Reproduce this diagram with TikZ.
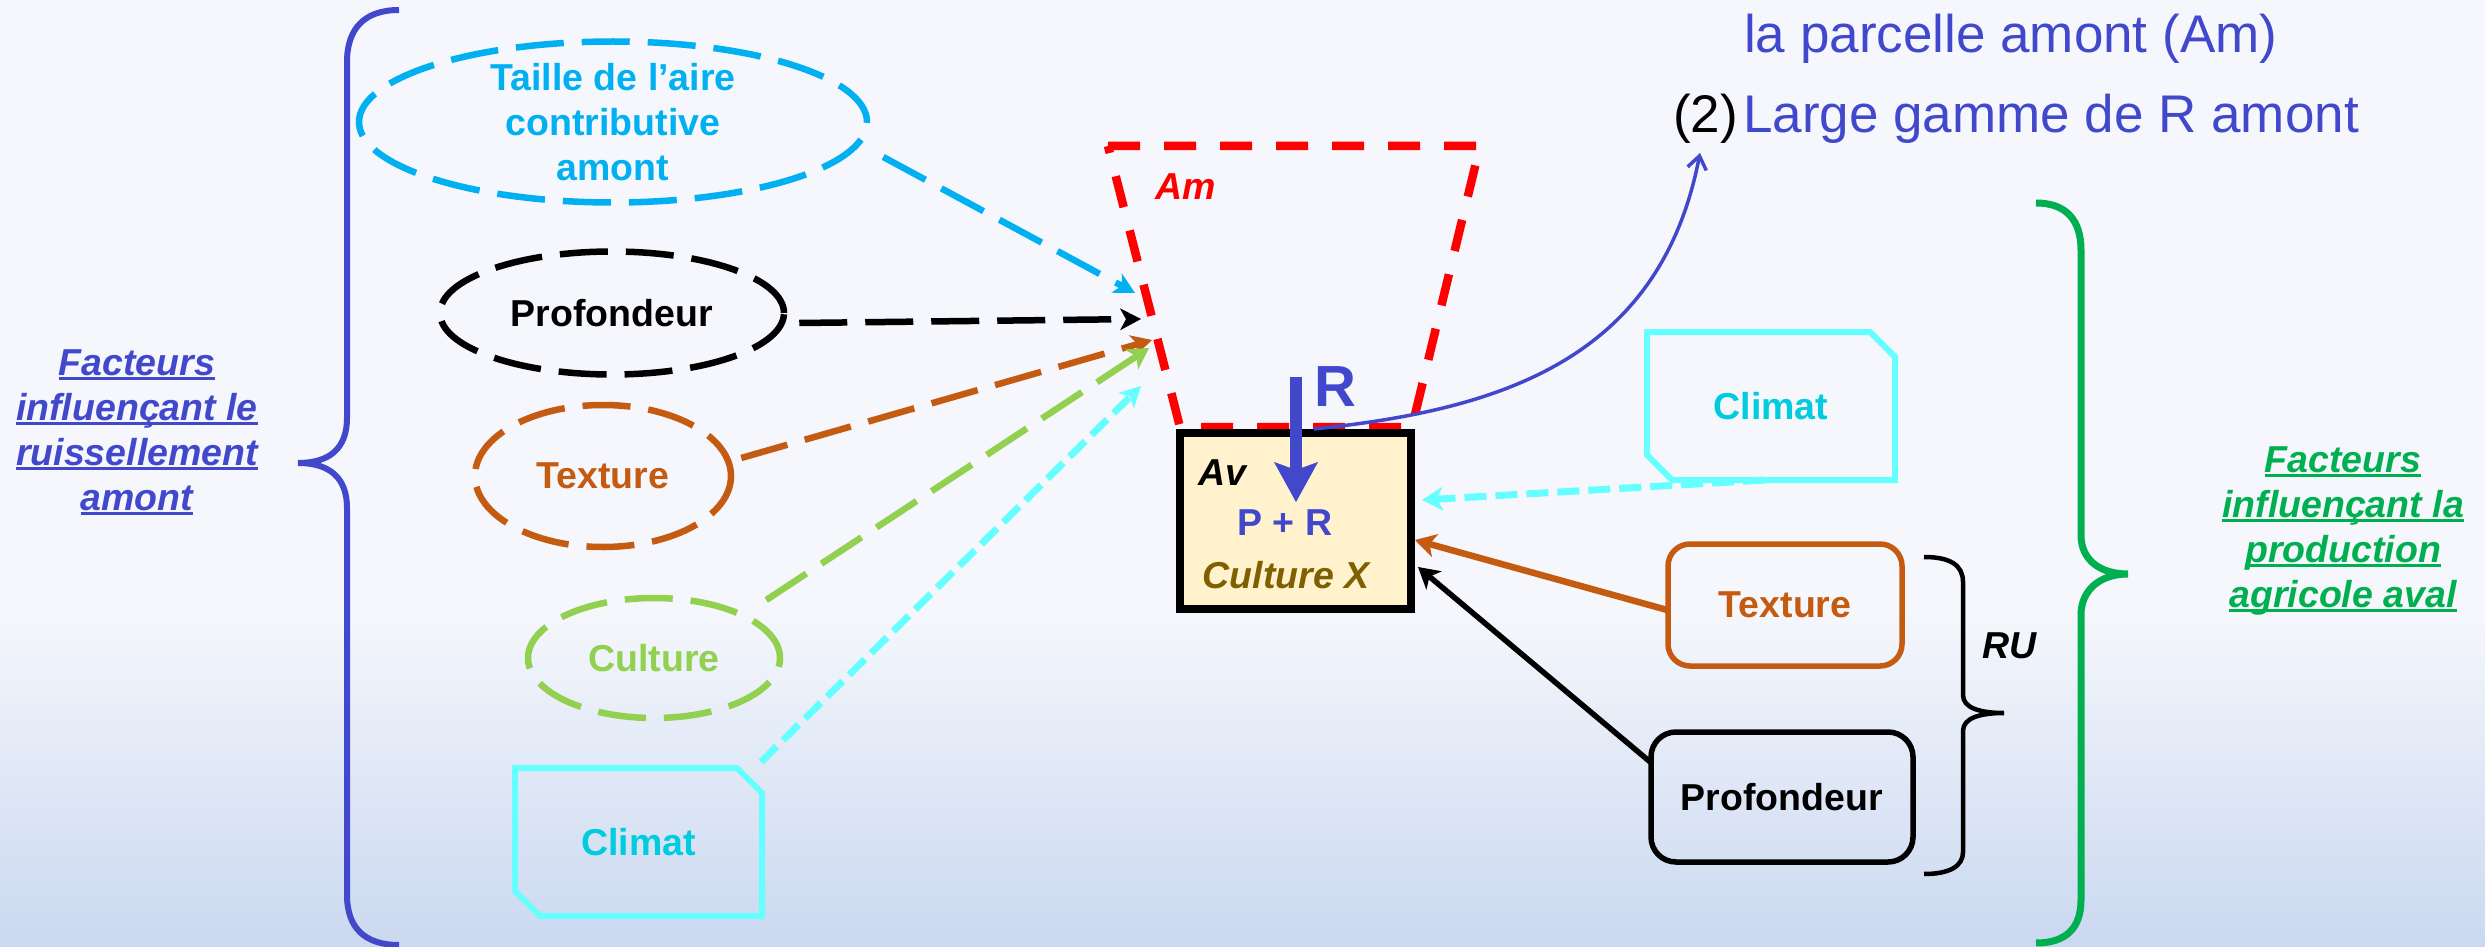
\documentclass[tikz,border=0pt]{standalone}
\usepackage{fontspec}
\setmainfont{Liberation Sans}
\usetikzlibrary{shapes.geometric,arrows.meta}
\definecolor{bl}{RGB}{65,72,204}
\definecolor{cy}{RGB}{0,176,240}
\definecolor{cyb}{RGB}{102,255,255}
\definecolor{cyt}{RGB}{0,204,221}
\definecolor{org}{RGB}{197,90,17}
\definecolor{lgr}{RGB}{146,208,80}
\definecolor{dgr}{RGB}{0,176,80}
\definecolor{brn}{RGB}{127,96,0}
\definecolor{avfill}{RGB}{255,242,204}
\definecolor{bgtop}{RGB}{245,247,252}
\definecolor{bgbot}{RGB}{202,216,240}
\newcommand\myul[1]{\setbox0\hbox{#1}\rlap{\rule[-4.5pt]{\wd0}{3pt}}\box0}
\newcommand\lblfont{\fontsize{37.5}{45}\selectfont\bfseries}
\newcommand\lblifont{\fontsize{37.5}{45}\selectfont\bfseries\itshape}
\newcommand\topfont{\fontsize{53}{60}\selectfont}
\tikzset{
  lbl/.style={font=\lblfont, inner sep=0pt, align=center},
  lbli/.style={font=\lblifont, inner sep=0pt, align=center},
  ell/.style={ellipse, line width=6.5pt, dash pattern=on 48pt off 18pt, inner sep=0pt},
  ldash/.style={dash pattern=on 48pt off 18pt},
  sdash/.style={dash pattern=on 22pt off 9pt},
  tipA/.style={-{Stealth[length=21pt,width=22pt,inset=6pt,line width=1pt]}},
  tipS/.style={-{Stealth[length=21pt,width=24pt,inset=6pt,line width=1pt]}},
  rbox/.style={rounded corners=22pt, line width=5.5pt, inner sep=0pt},
  cbox/.style={inner sep=0pt, outer sep=0pt, font=\lblfont, text=cyt},
}
\begin{document}
\begin{tikzpicture}[x=1pt,y=-1pt]
\useasboundingbox (0,0) rectangle (2485,947);
\fill[bgtop] (0,0) rectangle (2485,947);
\shade[top color=bgtop,bottom color=bgbot] (0,610) rectangle (2485,947);

% braces
\draw[bl, line width=6pt] (399,10) .. controls (365,10) and (347,28) .. (347,62) -- (347,418) .. controls (347,448) and (330,463) .. (298,463) .. controls (330,463) and (347,478) .. (347,508) -- (347,895) .. controls (347,928) and (365,945) .. (399,945);
\draw[dgr, line width=7pt] (2036,203) .. controls (2066,203) and (2081,220) .. (2081,250) -- (2081,535) .. controls (2081,560) and (2100,574) .. (2128,574) .. controls (2100,574) and (2081,590) .. (2081,615) -- (2081,900) .. controls (2081,928) and (2066,943) .. (2036,943);
\draw[black, line width=4.5pt] (1924,557) .. controls (1950,557) and (1963,565) .. (1963,582) -- (1963,695) .. controls (1963,708) and (1980,713) .. (2004,713) .. controls (1980,713) and (1963,718) .. (1963,731) -- (1963,852) .. controls (1963,866) and (1950,874) .. (1924,874);

% side texts
\node[lbli, text=bl] (leftT) at (137,432) {\myul{Facteurs}\\\myul{influençant le}\\\myul{ruissellement}\\\myul{amont}};
\node[lbli, text=dgr] (rightT) at (2343,531) {\myul{Facteurs}\\\myul{influençant la}\\\myul{production}\\\myul{agricole aval}};
\node[lbli, anchor=base west] (ru) at (1982,658) {RU};

% left factor ellipses
\node[ell, draw=cy, minimum width=508pt, minimum height=161pt, label={[lbl,text=cy]center:Taille de l’aire\\contributive\\amont}] (taille) at (613,122) {};
\node[ell, draw=black, minimum width=344pt, minimum height=123pt, label={[lbl,text=black]center:Profondeur}] (prof) at (612,313) {};
\node[ell, draw=org, minimum width=256pt, minimum height=142pt, label={[lbl,text=org]center:Texture}] (tex) at (603,476) {};
\node[ell, draw=lgr, minimum width=252pt, minimum height=120pt, label={[lbl,text=lgr]center:Culture}] (cult) at (654,658) {};

% climat boxes
\node[cbox, minimum width=247pt, minimum height=148pt] (climL) at (638.5,842) {Climat};
\draw[cyb, line width=6pt] (climL.north west) -- ([xshift=-25pt]climL.north east) -- ([yshift=-25pt]climL.north east) -- (climL.south east) -- ([xshift=25pt]climL.south west) -- ([yshift=25pt]climL.south west) -- cycle;
\node[cbox, minimum width=248pt, minimum height=148pt] (climR) at (1771,406) {Climat};
\draw[cyb, line width=6pt] (climR.north west) -- ([xshift=-25pt]climR.north east) -- ([yshift=-25pt]climR.north east) -- (climR.south east) -- ([xshift=25pt]climR.south west) -- ([yshift=25pt]climR.south west) -- cycle;

% right factor boxes
\node[rbox, draw=org, minimum width=234pt, minimum height=122pt, font=\lblfont, text=org] (texR) at (1785,605) {Texture};
\node[rbox, rounded corners=25pt, draw=black, minimum width=262pt, minimum height=130pt, font=\lblfont] (profR) at (1782,797) {Profondeur};

% Am trapezoid
\coordinate (t1) at (1108,146);
\coordinate (t2) at (1480,146);
\coordinate (t3) at (1412,427);
\coordinate (t4) at (1180,427);
\draw[red, line width=8.5pt, dash pattern=on 32pt off 24pt] (t1) -- (t2) -- (t3) -- (t4) -- cycle;
\node[lbli, text=red, anchor=base west] (amt) at (1155,199) {Am};

% Av box
\node[draw=black, line width=8pt, fill=avfill, minimum width=231pt, minimum height=176pt, inner sep=0pt] (av) at (1295.5,521) {};
\node[lbli, anchor=base west] (avt) at (1198,485) {Av};
\node[lbl, text=bl, anchor=base] (pr) at (1285,535) {P + R};
\node[lbli, text=brn, anchor=base] (cx) at (1286,588) {Culture X};

% targets
\coordinate (amC) at (1135,293);
\coordinate (amK) at (1141,319);
\coordinate (amO) at (1152,340);
\coordinate (amG) at (1149,348);
\coordinate (amY) at (1141,386);
\coordinate (avC) at (1422,500);
\coordinate (avO) at (1415,540);
\coordinate (avK) at (1418,567);

% left connectors
\draw[cy, line width=6.5pt, ldash, tipA] ([shift={(13,35)}]taille.east) -- (amC);
\draw[black, line width=6.5pt, ldash, tipA] ([shift={(12,10)}]prof.east) -- (amK);
\draw[org, line width=6.5pt, ldash, tipA] ([shift={(7,-18)}]tex.east) -- (amO);
\draw[lgr, line width=6.5pt, ldash, tipS] ([shift={(-17,-58)}]cult.east) -- (amG);
\draw[cyb, line width=7pt, sdash, tipA] ([shift={(-1,-6)}]climL.north east) -- (amY);

% right connectors
\draw[cyb, line width=7pt, sdash, tipS] ([shift={(-6,0)}]climR.south) -- (avC);
\draw[org, line width=6.5pt, tipS] ([shift={(2,5)}]texR.west) -- (avO);
\draw[black, line width=5.5pt, tipS] ([shift={(2,-35)}]profR.west) -- (avK);

% R arrow
\coordinate (rtop) at (1296,377);
\coordinate (rtip) at (1296,502);
\draw[bl, line width=12pt, -{Stealth[length=40pt,width=44pt,inset=8pt,line width=1pt]}] (rtop) -- (rtip);
\node[text=bl, font=\fontsize{58}{60}\selectfont\bfseries, inner sep=0pt, anchor=base west] (bigR) at (1314,406) {R};

% top right texts
\node[text=bl, font=\topfont, inner sep=0pt, anchor=base west] (parc) at (1744,53) {la parcelle amont (Am)};
\node[font=\topfont, inner sep=0pt, anchor=base west] (two) at (1673,133) {(2)};
\node[text=bl, font=\topfont, inner sep=0pt, anchor=base west] (gamme) at (1743,133) {Large gamme de R amont};
\coordinate (twoarr) at (1700,153);
\draw[bl, line width=3.5pt, -{Straight Barb[length=13pt,width=19pt,line width=3.5pt]}] ([xshift=18pt]av.north) .. controls (1500,410) and (1660,360) .. (twoarr);
\end{tikzpicture}
\end{document}
